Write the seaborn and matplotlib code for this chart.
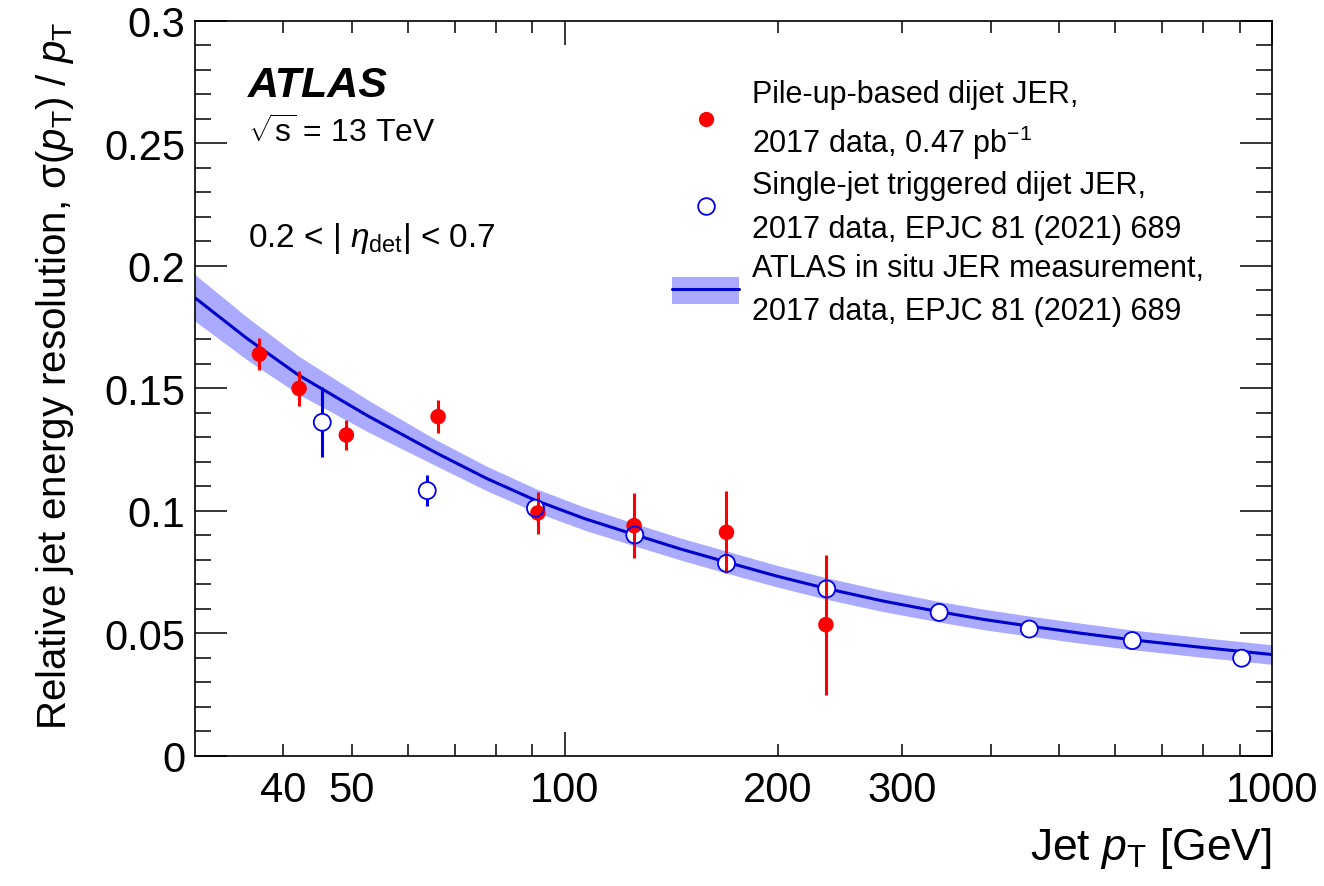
import numpy as np
import matplotlib
matplotlib.use('Agg')
import matplotlib.pyplot as plt
import seaborn as sns
from matplotlib.lines import Line2D
from matplotlib.patches import Patch
from matplotlib.ticker import FixedLocator, MultipleLocator, FuncFormatter

# pile-up-based dijet JER (red, filled)
pu_pt = [37.0, 42.1, 49.1, 66.2, 91.6, 125.3, 169.3, 234.0]
pu_jer = [0.164, 0.150, 0.131, 0.1385, 0.0992, 0.094, 0.0913, 0.0536]
pu_err = [0.0065, 0.0073, 0.006, 0.0068, 0.0085, 0.0133, 0.0167, 0.0286]

# single-jet triggered dijet JER (blue, open)
sj_pt = [45.4, 63.9, 90.9, 125.6, 169.3, 234.6, 338.4, 453.8, 634.7, 906.0]
sj_jer = [0.1362, 0.1083, 0.1011, 0.0902, 0.0786, 0.0682, 0.0586, 0.0518, 0.0471, 0.0399]
sj_err = [0.0143, 0.0063, 0.002, 0.002, 0.002, 0.002, 0.002, 0.002, 0.002, 0.002]

fit_pt = [30, 35.5, 42, 52.6, 66, 77.5, 91, 106.6, 125, 145.3, 169, 198.9, 234,
          281.2, 338, 391.7, 454, 536.8, 635, 796.9, 1000]
fit_jer = [0.1870, 0.1705, 0.1555, 0.1389, 0.1235, 0.1133, 0.1043, 0.0969, 0.0905,
           0.0846, 0.0792, 0.0735, 0.0684, 0.0633, 0.0589, 0.0557, 0.0530, 0.0501,
           0.0474, 0.0443, 0.0414]
fit_unc = [0.0095, 0.0087, 0.0078, 0.0065, 0.0053, 0.0050, 0.0048, 0.0047, 0.0046,
           0.0045, 0.0045, 0.0044, 0.0044, 0.0043, 0.0042, 0.0042, 0.0041, 0.0041,
           0.0040, 0.0040, 0.0040]

sns.set_theme(style='ticks')
plt.rcParams['font.family'] = ['Liberation Sans', 'DejaVu Sans']
plt.rcParams['mathtext.fontset'] = 'custom'
plt.rcParams['mathtext.rm'] = 'Liberation Sans'
plt.rcParams['mathtext.it'] = 'Liberation Sans:italic'
plt.rcParams['mathtext.bf'] = 'Liberation Sans:bold'
plt.rcParams['text.color'] = 'black'
plt.rcParams['axes.labelcolor'] = 'black'

red = '#ff0000'
blue = '#0000ee'
line_col = '#0000cc'
band_col = '#aaaaff'

fig = plt.figure(figsize=(13.24, 8.87), dpi=100)
ax = fig.add_axes([0.1473, 0.1466, 0.8134, 0.8286])

lo = np.array(fit_jer) - np.array(fit_unc)
hi = np.array(fit_jer) + np.array(fit_unc)
ax.fill_between(fit_pt, lo, hi, color=band_col, lw=0, zorder=1)
sns.lineplot(x=fit_pt, y=fit_jer, ax=ax, color=line_col, lw=2.2, zorder=2)

ax.errorbar(sj_pt, sj_jer, yerr=sj_err, fmt='none', ecolor=blue, elinewidth=2.2, zorder=3)
sns.scatterplot(x=sj_pt, y=sj_jer, ax=ax, s=150, facecolor='white', edgecolor='none', zorder=4)
ax.errorbar(pu_pt, pu_jer, yerr=pu_err, fmt='none', ecolor=red, elinewidth=2.2, zorder=5)
sns.scatterplot(x=pu_pt, y=pu_jer, ax=ax, s=125, color=red, edgecolor='none', zorder=6)
sns.scatterplot(x=sj_pt, y=sj_jer, ax=ax, s=150, facecolor='none', edgecolor=blue,
                linewidth=1.3, zorder=7)

ax.set_xscale('log')
ax.set_xlim(30, 1000)
ax.set_ylim(0, 0.3)

ax.xaxis.set_major_locator(FixedLocator([100, 1000]))
ax.xaxis.set_minor_locator(FixedLocator([40, 50, 60, 70, 80, 90, 200, 300, 400, 500,
                                         600, 700, 800, 900]))
ax.xaxis.set_major_formatter(FuncFormatter(lambda v, p: '%g' % v))
ax.xaxis.set_minor_formatter(FuncFormatter(
    lambda v, p: '%g' % v if v in (40, 50, 200, 300) else ''))
ax.yaxis.set_major_locator(MultipleLocator(0.05))
ax.yaxis.set_minor_locator(MultipleLocator(0.01))
ax.yaxis.set_major_formatter(FuncFormatter(lambda v, p: '%g' % round(v, 3)))

ax.tick_params(which='both', direction='in', top=True, right=True, colors='black',
               labelsize=30, width=1.1)
ax.tick_params(axis='y', which='major', length=23, pad=7)
ax.tick_params(axis='y', which='minor', length=11.5)
ax.tick_params(axis='x', which='major', length=17, pad=10)
ax.tick_params(axis='x', which='minor', length=8.5, pad=10, labelsize=30)
for s in ax.spines.values():
    s.set_color('black')
    s.set_linewidth(1.2)

ax.set_ylabel(r'Relative jet energy resolution, σ($p_{\mathrm{T}}$) / $p_{\mathrm{T}}$',
              fontsize=29, loc='top', labelpad=20)
ax.set_xlabel(r'Jet $p_{\mathrm{T}}$ [GeV]', fontsize=32, loc='right', labelpad=11)

ax.text(0.049, 0.898, 'ATLAS', transform=ax.transAxes, fontsize=31,
        fontweight='bold', fontstyle='italic', va='baseline')
ax.text(0.049, 0.835, r'$\sqrt{\mathrm{s}}$ = 13 TeV', transform=ax.transAxes,
        fontsize=23, va='baseline')
ax.text(0.049, 0.694, r'0.2 < | $\eta_{\mathrm{det}}$| < 0.7', transform=ax.transAxes,
        fontsize=24, va='baseline')

h_red = Line2D([], [], marker='o', ls='none', color=red, ms=11, mec='none')
h_blue = Line2D([], [], marker='o', ls='none', mfc='none', mec=blue, ms=12, mew=1.3)
h_band = (Patch(facecolor=band_col, edgecolor='none'),
          Line2D([], [], color=line_col, lw=2.2))
labels = ['Pile-up-based dijet JER,\n2017 data, 0.47 pb$^{-1}$',
          'Single-jet triggered dijet JER,\n2017 data, EPJC 81 (2021) 689',
          'ATLAS in situ JER measurement,\n2017 data, EPJC 81 (2021) 689']
leg = ax.legend([h_red, h_blue, h_band], labels, loc='upper left',
                bbox_to_anchor=(0.443, 0.921), frameon=False, fontsize=22,
                borderpad=0, borderaxespad=0, handlelength=2.2, handleheight=1.0,
                handletextpad=0.4, labelspacing=0.3)
for t, ls in zip(leg.get_texts(), [1.45, 1.6, 1.6]):
    t.set_linespacing(ls)

fig.savefig('out.png', dpi=100)
